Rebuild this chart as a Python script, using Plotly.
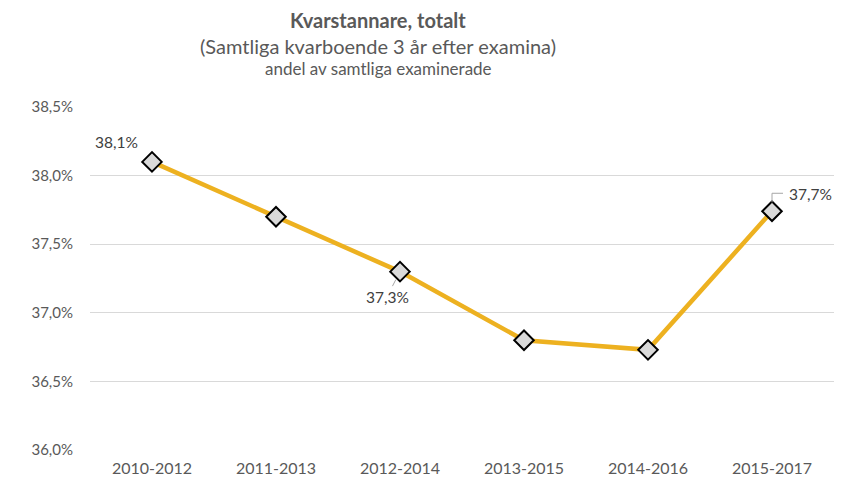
import plotly.graph_objects as go

categories = ["2010-2012", "2011-2013", "2012-2014", "2013-2015", "2014-2016", "2015-2017"]
values = [38.10, 37.70, 37.30, 36.80, 36.73, 37.74]
y_ticks = [36.0, 36.5, 37.0, 37.5, 38.0, 38.5]
y_tick_labels = ["36,0%", "36,5%", "37,0%", "37,5%", "38,0%", "38,5%"]
labelled = {0: "38,1%", 2: "37,3%", 5: "37,7%"}

FONT = "Lato, 'Open Sans', sans-serif"
fig = go.Figure()
fig.add_trace(go.Scatter(
    x=categories, y=values, mode="lines+markers",
    line=dict(color="#EDB120", width=4.5),
    marker=dict(symbol="diamond", size=15, color="#D9D9D9",
                line=dict(color="#000000", width=2)),
    hoverinfo="skip", showlegend=False,
))

# data labels
fig.add_annotation(x=categories[0], y=values[0], text=labelled[0], showarrow=True,
                   arrowcolor="rgba(0,0,0,0)", ax=-36, ay=-20,
                   font=dict(family=FONT, size=15.5, color="#404040"))
fig.add_annotation(x=categories[2], y=values[2], text=labelled[2], showarrow=True,
                   arrowhead=0, arrowwidth=1, arrowcolor="#A6A6A6", standoff=9,
                   ax=-13, ay=25, font=dict(family=FONT, size=15.5, color="#404040"))
fig.add_annotation(x=categories[5], y=values[5], text=labelled[5], showarrow=False,
                   xshift=38, yshift=17, font=dict(family=FONT, size=15.5, color="#404040"))
fig.add_shape(type="path", xref="x", yref="y", xsizemode="pixel", ysizemode="pixel",
              xanchor=categories[5], yanchor=values[5],
              path="M0,9 L0,18 L11,18", line=dict(color="#A6A6A6", width=1))

fig.update_layout(
    width=853, height=477,
    margin=dict(l=82, r=27, t=99, b=35),
    plot_bgcolor="white", paper_bgcolor="white",
    font=dict(family=FONT, color="#595959"),
    xaxis=dict(type="category", range=[-0.5, 5.5], showgrid=False, showline=False,
               automargin=False, ticks="", ticklabelstandoff=7,
               tickfont=dict(size=16, color="#595959")),
    yaxis=dict(range=[36.0, 38.5], tickvals=y_ticks, ticktext=y_tick_labels,
               automargin=False, showgrid=True, gridcolor="#D9D9D9", gridwidth=1.3,
               zeroline=False, showline=False, ticks="", ticklabelstandoff=16,
               tickfont=dict(size=15, color="#595959")),
)
tx = (370 - 82) / 744
fig.add_annotation(xref="paper", yref="paper", x=tx, y=1, yshift=87, yanchor="middle",
                   text="<b>Kvarstannare, totalt</b>", showarrow=False,
                   font=dict(family=FONT, size=20, color="#595959"))
fig.add_annotation(xref="paper", yref="paper", x=tx, y=1, yshift=61, yanchor="middle",
                   text="(Samtliga kvarboende 3 år efter examina)", showarrow=False,
                   font=dict(family=FONT, size=20, color="#595959"))
fig.add_annotation(xref="paper", yref="paper", x=tx, y=1, yshift=39, yanchor="middle",
                   text="andel av samtliga examinerade", showarrow=False,
                   font=dict(family=FONT, size=17, color="#595959"))
fig.write_html("out.html")
